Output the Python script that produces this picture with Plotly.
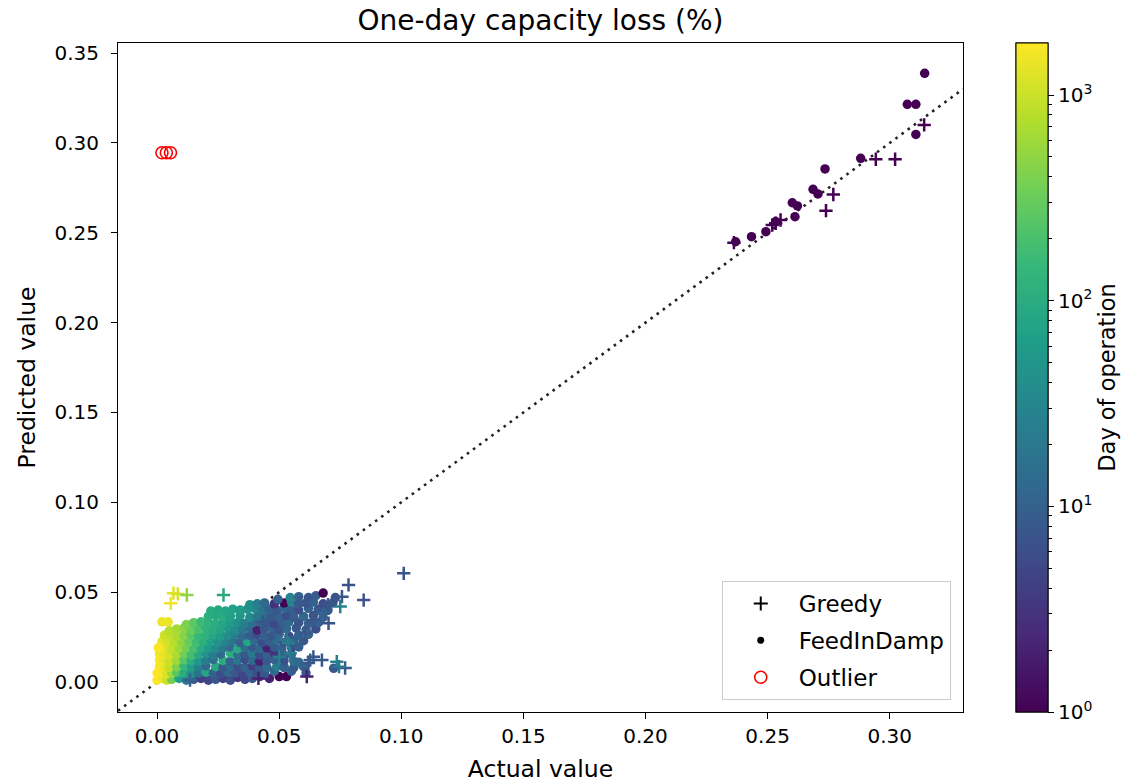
import numpy as np
import plotly.graph_objects as go

# ---------------- data ----------------
# FeedInDamp points: actual value, predicted value, day of operation
fd_x = [
    # row ~0.0015
    0.000, 0.002, 0.004, 0.006, 0.009, 0.012, 0.015, 0.018, 0.021, 0.024, 0.027, 0.030, 0.033, 0.036, 0.039, 0.042, 0.046, 0.050, 0.053,
    # row ~0.005
    0.000, 0.002, 0.004, 0.006, 0.008, 0.011, 0.014, 0.017, 0.020, 0.023, 0.026, 0.029, 0.032, 0.035, 0.038, 0.041, 0.044, 0.048, 0.052, 0.055,
    # row ~0.0085
    0.001, 0.003, 0.005, 0.008, 0.011, 0.014, 0.017, 0.020, 0.024, 0.027, 0.030, 0.033, 0.036, 0.039, 0.042, 0.045, 0.049, 0.052, 0.056, 0.060,
    # row ~0.012
    0.001, 0.003, 0.005, 0.008, 0.011, 0.014, 0.017, 0.020, 0.023, 0.027, 0.030, 0.033, 0.036, 0.039, 0.042, 0.045, 0.048, 0.052, 0.056,
    # row ~0.0155
    0.001, 0.003, 0.005, 0.008, 0.011, 0.014, 0.017, 0.020, 0.023, 0.026, 0.030, 0.033, 0.036, 0.039, 0.042, 0.045, 0.048, 0.052, 0.055,
    # row ~0.019
    0.002, 0.004, 0.006, 0.009, 0.012, 0.015, 0.018, 0.021, 0.024, 0.027, 0.030, 0.033, 0.036, 0.039, 0.042, 0.045, 0.048, 0.051, 0.055, 0.058,
    # row ~0.0225
    0.002, 0.004, 0.007, 0.010, 0.013, 0.016, 0.019, 0.022, 0.025, 0.028, 0.031, 0.034, 0.037, 0.040, 0.043, 0.046, 0.049, 0.052, 0.056, 0.060,
    # row ~0.026
    0.003, 0.005, 0.008, 0.011, 0.014, 0.017, 0.020, 0.023, 0.026, 0.029, 0.032, 0.035, 0.038, 0.041, 0.044, 0.047, 0.050, 0.054, 0.058, 0.062,
    # row ~0.0295
    0.005, 0.008, 0.011, 0.014, 0.017, 0.020, 0.023, 0.026, 0.029, 0.032, 0.035, 0.038, 0.041, 0.044, 0.047, 0.050, 0.053, 0.057, 0.061, 0.065,
    # row ~0.033
    0.012, 0.015, 0.018, 0.021, 0.024, 0.027, 0.030, 0.033, 0.036, 0.039, 0.042, 0.045, 0.048, 0.051, 0.054, 0.058, 0.062, 0.066,
    # row ~0.0365
    0.021, 0.024, 0.027, 0.030, 0.034, 0.038, 0.041, 0.044, 0.047, 0.050, 0.053, 0.056, 0.060, 0.064, 0.068,
    # row ~0.040
    0.022, 0.025, 0.028, 0.031, 0.034, 0.037, 0.040, 0.043, 0.046, 0.049, 0.052, 0.055, 0.058, 0.062, 0.066, 0.070,
    # row ~0.0435
    0.038, 0.041, 0.044, 0.048, 0.052, 0.055, 0.058, 0.061, 0.064, 0.068, 0.072,
    # row ~0.047
    0.0545, 0.058, 0.062, 0.065, 0.068, 0.073, 0.0495,
    # extras
    0.002, 0.0045, 0.0005, 0.0723, 0.061, 0.058,
    # upper cluster
    0.3143, 0.3072, 0.3107, 0.3107, 0.2881, 0.2735, 0.2686, 0.2706, 0.2601, 0.2622, 0.2612, 0.2493, 0.2434, 0.2369, 0.2533,
]
fd_y = [
    0.001, 0.002, 0.001, 0.0015, 0.002, 0.001, 0.0015, 0.002, 0.001, 0.0015, 0.002, 0.001, 0.0025, 0.0015, 0.002, 0.003, 0.002, 0.003, 0.003,
    0.005, 0.0055, 0.0045, 0.005, 0.0055, 0.005, 0.0045, 0.005, 0.0055, 0.005, 0.0045, 0.0055, 0.005, 0.0045, 0.0055, 0.005, 0.0045, 0.006, 0.0085, 0.006,
    0.0085, 0.009, 0.008, 0.0085, 0.009, 0.008, 0.0085, 0.009, 0.0085, 0.008, 0.009, 0.0085, 0.008, 0.009, 0.0085, 0.008, 0.0085, 0.008, 0.008, 0.0085,
    0.012, 0.0125, 0.0115, 0.012, 0.0125, 0.012, 0.0115, 0.012, 0.0125, 0.012, 0.0115, 0.012, 0.0125, 0.012, 0.0115, 0.012, 0.0125, 0.012, 0.0115,
    0.0155, 0.016, 0.015, 0.0155, 0.016, 0.015, 0.0155, 0.016, 0.015, 0.0155, 0.016, 0.015, 0.0155, 0.016, 0.015, 0.0155, 0.016, 0.015, 0.0155,
    0.019, 0.0195, 0.0185, 0.019, 0.0195, 0.0185, 0.019, 0.0195, 0.0185, 0.019, 0.0195, 0.0185, 0.019, 0.0195, 0.0185, 0.019, 0.0195, 0.0185, 0.019, 0.0195,
    0.0225, 0.023, 0.022, 0.0225, 0.023, 0.022, 0.0225, 0.023, 0.022, 0.0225, 0.023, 0.022, 0.0225, 0.023, 0.022, 0.0225, 0.023, 0.022, 0.0225, 0.023,
    0.026, 0.0265, 0.0255, 0.026, 0.0265, 0.0255, 0.026, 0.0265, 0.0255, 0.026, 0.0265, 0.0255, 0.026, 0.0265, 0.0255, 0.026, 0.0265, 0.0255, 0.026, 0.0265,
    0.0285, 0.0295, 0.030, 0.029, 0.0295, 0.030, 0.029, 0.0295, 0.030, 0.029, 0.0295, 0.030, 0.029, 0.0295, 0.030, 0.029, 0.0295, 0.030, 0.029, 0.0295,
    0.032, 0.033, 0.0335, 0.033, 0.0325, 0.033, 0.0335, 0.033, 0.0325, 0.033, 0.0335, 0.033, 0.0325, 0.033, 0.0335, 0.033, 0.0325, 0.033,
    0.0365, 0.037, 0.036, 0.0365, 0.037, 0.036, 0.0365, 0.037, 0.036, 0.0365, 0.037, 0.036, 0.0365, 0.037, 0.036,
    0.0395, 0.040, 0.0395, 0.0405, 0.040, 0.0405, 0.041, 0.040, 0.0405, 0.040, 0.041, 0.0405, 0.040, 0.041, 0.0405, 0.040,
    0.043, 0.0435, 0.044, 0.0435, 0.044, 0.0445, 0.0435, 0.044, 0.0445, 0.0435, 0.044,
    0.047, 0.0475, 0.047, 0.048, 0.0495, 0.047, 0.046,
    0.0335, 0.0335, 0.019, 0.0076, 0.005, 0.011,
    0.3387, 0.3215, 0.3215, 0.3047, 0.2914, 0.2855, 0.2742, 0.2716, 0.2667, 0.2649, 0.2589, 0.2506, 0.2478, 0.2450, 0.2562,
]
fd_day = [
    1800, 1500, 1000, 350, 70, 20, 8, 4, 5, 8, 4, 6, 3, 5, 8, 3, 2, 1, 1,
    1800, 1600, 1200, 600, 250, 100, 40, 15, 80, 10, 6, 12, 8, 5, 10, 6, 8, 12, 20, 10,
    1700, 1400, 900, 400, 150, 60, 25, 12, 90, 8, 15, 6, 10, 4, 8, 12, 25, 10, 8, 10,
    1700, 1400, 1000, 600, 250, 110, 50, 25, 15, 100, 10, 20, 6, 12, 2, 8, 10, 6, 15,
    1600, 1400, 1100, 700, 350, 180, 90, 45, 25, 12, 110, 15, 8, 20, 6, 10, 3, 8, 12,
    1500, 1200, 900, 600, 350, 200, 100, 60, 35, 20, 12, 90, 15, 8, 12, 2, 8, 10, 6, 9,
    1400, 1100, 800, 500, 300, 180, 110, 70, 45, 30, 18, 10, 80, 12, 6, 9, 14, 7, 10, 8,
    1000, 900, 700, 450, 250, 150, 120, 90, 60, 40, 25, 14, 9, 6, 10, 8, 12, 6, 9, 11,
    800, 650, 500, 320, 200, 130, 100, 80, 55, 35, 20, 12, 2, 8, 10, 7, 12, 8, 10, 6,
    400, 260, 160, 120, 100, 80, 60, 40, 25, 15, 10, 8, 5, 9, 12, 7, 9, 10,
    110, 90, 100, 70, 50, 35, 20, 12, 8, 10, 6, 9, 12, 7, 9,
    100, 90, 80, 70, 60, 45, 35, 18, 10, 8, 12, 9, 6, 10, 8, 9,
    40, 25, 12, 3, 1, 30, 9, 7, 10, 6, 8,
    30, 10, 8, 9, 1, 7, 10,
    1500, 1500, 1700, 8, 8, 12,
    1, 1, 1, 1, 1, 1, 1, 1, 1, 1, 1, 1, 1, 1, 1,
]

# Greedy points
gr_x = [0.3141, 0.2943, 0.3022, 0.2769, 0.2739, 0.2533, 0.2553, 0.2519, 0.2362,
        0.1010, 0.0784, 0.0846, 0.0702, 0.0757, 0.0750, 0.0627, 0.0675, 0.0736, 0.0770,
        0.0745, 0.0613, 0.0415, 0.0531, 0.0545, 0.0605, 0.0272, 0.0056, 0.0067, 0.0085,
        0.0122, 0.0537, 0.0574, 0.0640, 0.0620, 0.0434, 0.0586, 0.0640, 0.0500, 0.0135,
        0.0700, 0.0680]
gr_y = [0.3100, 0.2909, 0.2909, 0.2713, 0.2623, 0.2553, 0.2571, 0.2543, 0.2445,
        0.0605, 0.0540, 0.0456, 0.0327, 0.0475, 0.0420, 0.0122, 0.0122, 0.0113, 0.0078,
        0.0085, 0.0030, 0.0020, 0.0234, 0.0160, 0.0270, 0.0484, 0.0438, 0.0494, 0.0490,
        0.0484, 0.0217, 0.0250, 0.0140, 0.0106, 0.0334, 0.0440, 0.0345, 0.0140, 0.0010,
        0.0430, 0.0380]
gr_day = [1, 1, 1, 1, 1, 1, 1, 1, 1,
          7, 7, 7, 7, 8, 25, 8, 8, 25, 8,
          20, 2, 2, 20, 25, 8, 90, 1500, 1300, 1100,
          500, 25, 10, 8, 8, 8, 8, 8, 25, 10,
          7, 10]

# Outliers
out_x = [0.0020, 0.0038, 0.0055]
out_y = [0.2945, 0.2945, 0.2945]

# axis limits and ticks
x_lim = [-0.016, 0.330]
y_lim = [-0.0167, 0.3556]
x_ticks = [0.00, 0.05, 0.10, 0.15, 0.20, 0.25, 0.30]
y_ticks = [0.00, 0.05, 0.10, 0.15, 0.20, 0.25, 0.30, 0.35]
day_max = 1790
cb_major = [1, 10, 100, 1000]
cb_minor = [2, 3, 4, 5, 6, 7, 8, 9, 20, 30, 40, 50, 60, 70, 80, 90, 200, 300, 400, 500, 600, 700, 800, 900]

# ---------------- figure ----------------
FONT = "DejaVu Sans"
TICK_SIZE = 20
LABEL_SIZE = 23.5
TITLE_SIZE = 28
cmin, cmax = 0.0, float(np.log10(day_max))
cb_common = dict(x=1.0627, xanchor="left", xpad=0, y=0.5, yanchor="middle", ypad=0,
                 len=1.0, lenmode="fraction", thickness=32, thicknessmode="pixels",
                 outlinecolor="black", outlinewidth=1, ticks="outside", tickcolor="black")

fig = go.Figure()

# identity line
fig.add_trace(go.Scatter(x=[x_lim[0], x_lim[1]], y=[x_lim[0], x_lim[1]], mode="lines",
                         line=dict(color="#222222", width=2.6, dash="2.6px,5px"),
                         showlegend=False, hoverinfo="skip"))

fig.add_trace(go.Scatter(
    x=fd_x, y=fd_y, mode="markers", showlegend=False,
    marker=dict(symbol="circle", size=9.5, color=np.log10(fd_day), colorscale="Viridis",
                cmin=cmin, cmax=cmax, line=dict(width=0), showscale=True,
                colorbar=dict(**cb_common,
                              tickvals=[float(np.log10(v)) for v in cb_major],
                              ticktext=["10<sup>0</sup>", "10<sup>1</sup>", "10<sup>2</sup>", "10<sup>3</sup>"],
                              ticklen=6, tickwidth=1,
                              tickfont=dict(family=FONT, size=TICK_SIZE, color="black"),
                              title=dict(text="Day of operation", side="right",
                                         font=dict(family=FONT, size=22.5, color="black"))))))

# minor ticks colorbar (overlay)
fig.add_trace(go.Scatter(
    x=[None], y=[None], mode="markers", showlegend=False, hoverinfo="skip",
    marker=dict(color=[0.0], colorscale="Viridis", cmin=cmin, cmax=cmax, showscale=True,
                colorbar=dict(**cb_common,
                              tickvals=[float(np.log10(v)) for v in cb_minor],
                              ticktext=[""] * len(cb_minor), ticklen=3.5, tickwidth=1,
                              showticklabels=False))))

fig.add_trace(go.Scatter(
    x=gr_x, y=gr_y, mode="markers", showlegend=False,
    marker=dict(symbol="cross-thin", size=9.5,
                line=dict(width=2.5, color=np.log10(gr_day), colorscale="Viridis",
                          cmin=cmin, cmax=cmax))))

fig.add_trace(go.Scatter(
    x=out_x, y=out_y, mode="markers", showlegend=False,
    marker=dict(symbol="circle-open", size=12, color="red", line=dict(width=1.6, color="red"))))

# legend entries
fig.add_trace(go.Scatter(x=[None], y=[None], mode="markers", name="Greedy", legendgroup="g",
                         marker=dict(symbol="cross-thin", size=10, line=dict(width=2, color="black"))))
fig.add_trace(go.Scatter(x=[None], y=[None], mode="markers", name="FeedInDamp", legendgroup="f",
                         marker=dict(symbol="circle", size=7, color="black")))
fig.add_trace(go.Scatter(x=[None], y=[None], mode="markers", name="Outlier", legendgroup="o",
                         marker=dict(symbol="circle-open", size=12, color="red", line=dict(width=1.6, color="red"))))

axis_common = dict(showline=True, linecolor="black", linewidth=1, mirror=True,
                   ticks="outside", ticklen=6, tickwidth=1, tickcolor="black",
                   showgrid=False, zeroline=False, tickformat=".2f", automargin=False,
                   tickfont=dict(family=FONT, size=TICK_SIZE, color="black"))

fig.update_layout(
    width=1145, height=784,
    margin=dict(l=118, r=182, t=43, b=72),
    paper_bgcolor="white", plot_bgcolor="white",
    font=dict(family=FONT, size=TICK_SIZE, color="black"),
    title=dict(text="One-day capacity loss (%)", x=(118 + 963) / 2 / 1145, xanchor="center",
               y=1 - 20 / 784, yanchor="middle", font=dict(family=FONT, size=TITLE_SIZE, color="black")),
    xaxis=dict(range=x_lim, tickvals=x_ticks,
               title=dict(text="Actual value", standoff=13, font=dict(family=FONT, size=LABEL_SIZE)),
               **axis_common),
    yaxis=dict(range=y_lim, tickvals=y_ticks, ticklabelstandoff=8,
               title=dict(text="Predicted value", standoff=12, font=dict(family=FONT, size=LABEL_SIZE)),
               **axis_common),
    legend=dict(x=0.9855, xanchor="right", y=0.018, yanchor="bottom",
                bgcolor="rgba(255,255,255,0.85)", bordercolor="#cccccc", borderwidth=1,
                font=dict(family=FONT, size=23, color="black"), tracegroupgap=4,
                itemwidth=66),
)

fig.write_html("out.html")
